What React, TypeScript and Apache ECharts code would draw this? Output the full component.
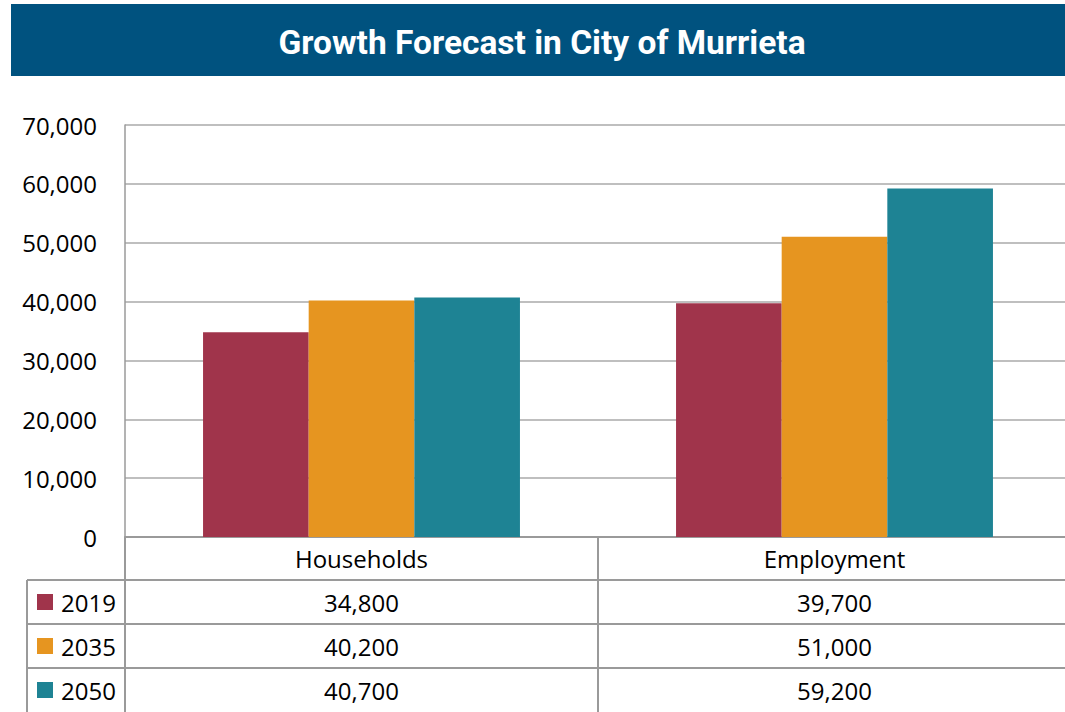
import React, { useEffect, useRef } from "react";
import * as echarts from "echarts";

const titleText = "Growth Forecast in City of Murrieta";
const categories = ["Households", "Employment"];
const years = ["2019", "2035", "2050"];
const values2019 = [34800, 39700];
const values2035 = [40200, 51000];
const values2050 = [40700, 59200];
const seriesValues = [values2019, values2035, values2050];
const colors = ["#A0344B", "#E69520", "#1E8394"];
const yMin = 0;
const yMax = 70000;
const yInterval = 10000;

const fmt = (v: number) => v.toLocaleString("en-US");

const CW = 1071;
const CH = 712;

export default function App() {
  const ref = useRef<HTMLDivElement>(null);
  useEffect(() => {
    if (!ref.current) return;
    const chart = echarts.init(ref.current, undefined, { renderer: "svg" });
    const W = CW;
    const H = CH;
    const gridLeft = 125;
    const gridTop = 125;
    const axisY = 537;
    const colW = (W - gridLeft) / categories.length;
    const rowTop = 580;
    const rowH = 44;
    const lineColor = "#9a9a9a";
    const font = "'Open Sans', sans-serif";

    const graphics: any[] = [
      {
        type: "rect",
        shape: { x: 11, y: 4, width: W - 11, height: 72 },
        style: { fill: "#00527F" },
        silent: true,
      },
      {
        type: "text",
        x: 542,
        y: 42,
        style: {
          text: titleText,
          fill: "#ffffff",
          font: "bold 33.5px Roboto, sans-serif",
          textAlign: "center",
          textVerticalAlign: "middle",
        },
      },
    ];
    for (let i = 0; i < categories.length; i++) {
      const x = gridLeft + i * colW;
      graphics.push({
        type: "line",
        shape: { x1: x, y1: axisY, x2: x, y2: H },
        style: { stroke: lineColor, lineWidth: 2 },
      });
    }
    graphics.push({
      type: "line",
      shape: { x1: 27, y1: rowTop, x2: 27, y2: H },
      style: { stroke: lineColor, lineWidth: 2 },
    });
    years.forEach((yr, r) => {
      const y0 = rowTop + r * rowH;
      graphics.push({
        type: "line",
        shape: { x1: 27, y1: y0, x2: W, y2: y0 },
        style: { stroke: lineColor, lineWidth: 2 },
      });
      const cy = y0 + rowH / 2;
      graphics.push({
        type: "rect",
        shape: { x: 37, y: cy - 8, width: 16, height: 16 },
        style: { fill: colors[r] },
      });
      graphics.push({
        type: "text",
        x: 61,
        y: cy,
        style: {
          text: yr,
          fill: "#000",
          font: `24px ${font}`,
          textAlign: "left",
          textVerticalAlign: "middle",
        },
      });
      seriesValues[r].forEach((v, c) => {
        graphics.push({
          type: "text",
          x: gridLeft + (c + 0.5) * colW,
          y: cy,
          style: {
            text: fmt(v),
            fill: "#000",
            font: `24px ${font}`,
            textAlign: "center",
            textVerticalAlign: "middle",
          },
        });
      });
    });

    chart.setOption({
      animation: false,
      grid: {
        left: gridLeft,
        right: 0,
        top: gridTop,
        bottom: H - axisY,
        containLabel: false,
      },
      xAxis: {
        type: "category",
        data: categories,
        axisLine: { show: true, lineStyle: { color: lineColor, width: 2 } },
        axisTick: { show: false },
        axisLabel: {
          color: "#000",
          fontSize: 24,
          fontFamily: font,
          margin: 9,
        },
      },
      yAxis: {
        type: "value",
        min: yMin,
        max: yMax,
        interval: yInterval,
        axisLine: { show: true, lineStyle: { color: lineColor, width: 1.5 } },
        axisTick: { show: false },
        splitLine: { show: true, lineStyle: { color: "#aaaaaa", width: 1.5 } },
        axisLabel: {
          color: "#000",
          fontSize: 24,
          fontFamily: font,
          margin: 28,
          formatter: (v: number) => fmt(v),
        },
      },
      series: years.map((yr, i) => ({
        name: yr,
        type: "bar",
        data: seriesValues[i],
        itemStyle: { color: colors[i] },
        barGap: "0%",
        barCategoryGap: "33%",
      })),
      graphic: graphics,
    });
    return () => chart.dispose();
  }, []);
  return (
    <div
      style={{
        position: "fixed",
        left: 0,
        top: 0,
        width: 1065,
        height: 712,
        overflow: "hidden",
        background: "#fff",
      }}
    >
      <div ref={ref} style={{ width: CW, height: CH }} />
    </div>
  );
}
